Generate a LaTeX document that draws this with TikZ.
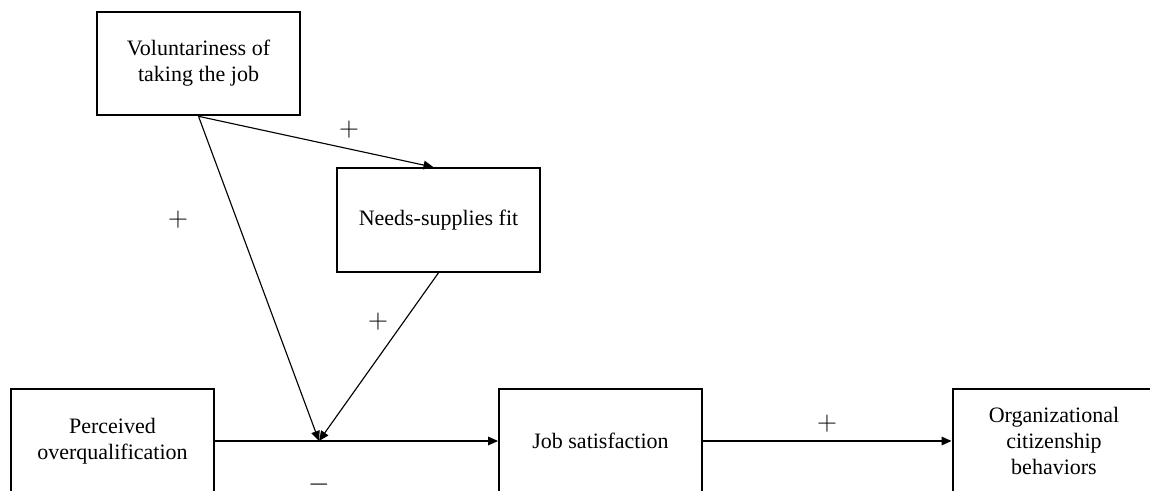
\documentclass[tikz,border=0pt]{standalone}
\usepackage[no-math]{fontspec}
\setmainfont{Liberation Serif}
\usetikzlibrary{arrows.meta}
\begin{document}
\begin{tikzpicture}[x=0.75pt,y=-0.75pt,
  box/.style={draw, line width=1.7pt, minimum width=152pt, minimum height=77.5pt,
    inner sep=0pt, align=center, font=\fontsize{16.5}{19.5}\selectfont},
  link/.style={line width=0.85pt, -{Triangle[length=7.5pt,width=6.5pt]}},
  sign/.style={inner sep=0pt, font=\fontsize{20}{20}\selectfont}]
  \useasboundingbox (0,0) rectangle (1150,491);
  \clip (0,0) rectangle (1150,491);
  \fill[white] (0,0) rectangle (1150,491);

  % constructs
  \node[box] (vol) at (198.5,63.5) {Voluntariness of\\taking the job};
  \node[box] (nsf) at (438.5,220) {Needs-supplies fit};
  \node[box] (poq) at (112.5,441) {Perceived\\overqualification};
  \node[box] (js)  at (600.5,441) {Job satisfaction};
  \node[box] (ocb) at (1054,441) {Organizational\\citizenship\\behaviors};
  \coordinate (mod) at (319,441);

  % paths
  \draw[link] (vol.south) -- ([xshift=-3.75pt]nsf.north);
  \draw[link] (vol.south) -- (mod);
  \draw[link] (nsf.south) -- (mod);
  \draw[link] (poq.east) -- (js.west);
  \draw[link] (js.east) -- (ocb.west);

  % signs of the effects
  \node[sign] (s1) at (349,130) {$+$};
  \node[sign] (s2) at (178,220) {$+$};
  \node[sign] (s3) at (378,322) {$+$};
  \node[sign] (s4) at (827,424) {$+$};
  \node[sign] (s5) at (319,485) {$-$};
\end{tikzpicture}
\end{document}
